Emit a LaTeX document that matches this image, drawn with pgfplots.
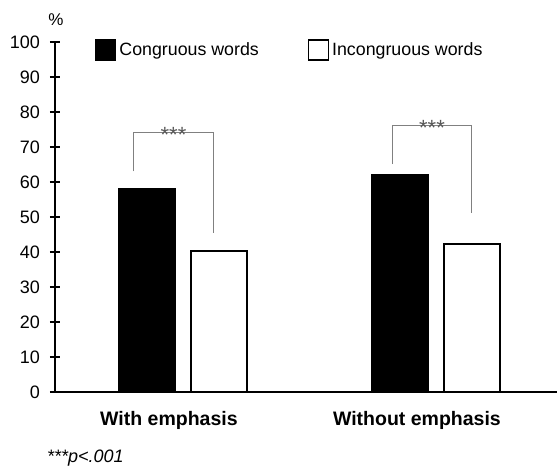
\documentclass[border=0pt]{standalone}
\usepackage{fontspec}
\setmainfont{Liberation Sans}
\usepackage{pgfplots}
\pgfplotsset{compat=1.18}
\definecolor{brk}{RGB}{128,128,128}
\definecolor{ast}{RGB}{89,89,89}
\begin{document}
\begin{tikzpicture}
\useasboundingbox (-55bp,-76bp) rectangle (502bp,392bp);
\begin{axis}[
  at={(0,0)}, anchor=south west,
  scale only axis, width=502bp, height=350bp,
  xmin=0, xmax=2, ymin=0, ymax=100,
  axis x line*=bottom, axis y line*=left,
  axis line style={line width=1.2bp, black},
  ytick={0,10,...,100},
  ytick style={line width=1.2bp, black},
  tick align=center, major tick length=10bp,
  xtick={0.454,1.442},
  xticklabels={With emphasis, Without emphasis},
  xtick style={draw=none},
  xticklabel style={font=\fontsize{19.5bp}{22bp}\selectfont\bfseries, anchor=center, yshift=-18bp},
  yticklabel style={font=\fontsize{18bp}{21bp}\selectfont, anchor=east, inner sep=0pt, xshift=-10bp},
  /pgf/number format/assume math mode=true,
  ybar, bar width=56bp, bar shift=0pt,
  clip=false,
  legend columns=2,
  legend image code/.code={\draw[#1, line width=1.2bp] (0bp,-10bp) rectangle (20bp,10bp);},
  legend style={draw=none, fill=none, inner sep=0pt, at={(rel axis cs:0.0797,0.977)}, anchor=west,
    nodes={inner sep=0pt, font=\fontsize{17.8bp}{20bp}\selectfont},
    /tikz/every odd column/.style={column sep=3bp},
    /tikz/every even column/.style={column sep=49bp}},
]
\addplot[fill=black, draw=black, line width=1.2bp] coordinates {(0.3665,58) (1.3745,62)};
\addlegendentry{Congruous words}
\addplot[fill=white, draw=black, line width=1.2bp] coordinates {(0.6534,40.3) (1.6614,42.3)};
\addlegendentry{Incongruous words}
\draw[brk, line width=1bp] (axis cs:0.3147,63) -- (axis cs:0.3147,74) -- (axis cs:0.6295,74) -- (axis cs:0.6295,45.4);
\draw[brk, line width=1bp] (axis cs:1.3466,65.1) -- (axis cs:1.3466,76) -- (axis cs:1.6574,76) -- (axis cs:1.6574,51.1);
\node[ast, anchor=base, inner sep=0pt, font=\fontsize{22bp}{24bp}\selectfont, yshift=-9.5bp] at (axis cs:0.4721,74) {***};
\node[ast, anchor=base, inner sep=0pt, font=\fontsize{22bp}{24bp}\selectfont, yshift=-9.5bp] at (axis cs:1.502,76) {***};
\node[anchor=center, inner sep=0pt, font=\fontsize{17bp}{19bp}\selectfont] at (rel axis cs:0.002,1.064) {\%};
\node[anchor=west, inner sep=0pt, font=\fontsize{18bp}{20bp}\selectfont\itshape] at (rel axis cs:-0.016,-0.19) {***p<.001};
\end{axis}
\end{tikzpicture}
\end{document}
